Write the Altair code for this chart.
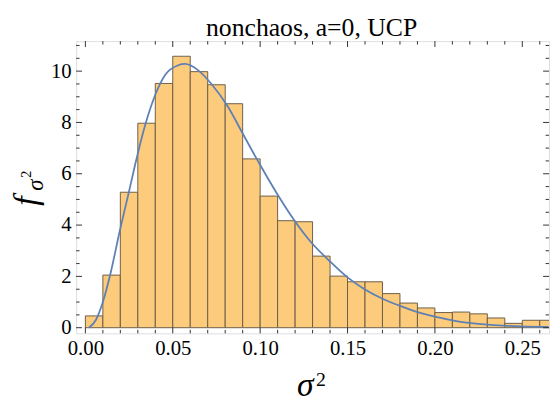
import altair as alt
import pandas as pd

# ---- data ----
bin_lo = [0.00, 0.01, 0.02, 0.03, 0.04, 0.05, 0.06, 0.07, 0.08, 0.09,
          0.10, 0.11, 0.12, 0.13, 0.14, 0.15, 0.16, 0.17, 0.18, 0.19,
          0.20, 0.21, 0.22, 0.23, 0.24, 0.25, 0.26]
bin_hi = [0.01, 0.02, 0.03, 0.04, 0.05, 0.06, 0.07, 0.08, 0.09, 0.10,
          0.11, 0.12, 0.13, 0.14, 0.15, 0.16, 0.17, 0.18, 0.19, 0.20,
          0.21, 0.22, 0.23, 0.24, 0.25, 0.26, 0.27]
density = [0.46, 2.05, 5.28, 7.97, 9.52, 10.58, 9.98, 9.47, 8.73, 6.58,
           5.13, 4.17, 4.13, 2.79, 2.01, 1.79, 1.79, 1.33, 0.96, 0.77,
           0.59, 0.61, 0.54, 0.38, 0.17, 0.29, 0.29]

curve_x = [0.002, 0.006, 0.010, 0.0145, 0.0196, 0.0249, 0.029, 0.0343, 0.040,
           0.0456, 0.0531, 0.057, 0.0644, 0.0719, 0.0814, 0.0908, 0.1002,
           0.1096, 0.120, 0.1294, 0.1397, 0.150, 0.1595, 0.170, 0.1793,
           0.1887, 0.1925, 0.202, 0.2113, 0.2207, 0.230, 0.2395, 0.249, 0.265]
curve_y = [0.0, 0.3, 1.0, 2.15, 3.75, 5.29, 6.51, 7.92, 9.08,
           9.85, 10.23, 10.28, 10.04, 9.52, 8.63, 7.47, 6.32,
           5.23, 4.14, 3.31, 2.6, 1.96, 1.51, 1.13, 0.87,
           0.64, 0.56, 0.40, 0.27, 0.18, 0.12, 0.08, 0.05, 0.03]

x_major = [0.00, 0.05, 0.10, 0.15, 0.20, 0.25]
x_minor = [0.01, 0.02, 0.03, 0.04, 0.06, 0.07, 0.08, 0.09, 0.11, 0.12, 0.13,
           0.14, 0.16, 0.17, 0.18, 0.19, 0.21, 0.22, 0.23, 0.24, 0.26]
y_major = [0, 2, 4, 6, 8, 10]
y_minor = [0.5, 1, 1.5, 2.5, 3, 3.5, 4.5, 5, 5.5, 6.5, 7, 7.5, 8.5, 9, 9.5,
           10.5, 11]

title_text = "nonchaos, a=0, UCP"

# ---- layout ----
W, H = 479, 296
FONT = "Liberation Serif"
MAJ, MIN = 6, 3.5
TICK_COLOR = "#333333"

xscale = alt.Scale(domain=[-0.0053, 0.2653], nice=False, zero=False)
yscale = alt.Scale(domain=[-0.22, 11.17], nice=False, zero=False)
xaxis = alt.Axis(values=x_major, format=".2f", ticks=False, domain=False,
                 grid=False, labelFont=FONT, labelFontSize=21, labelColor="black",
                 labelPadding=4, title=None, labelFlush=False)
yaxis = alt.Axis(values=y_major, format="d", ticks=False, domain=False,
                 grid=False, labelFont=FONT, labelFontSize=21, labelColor="black",
                 labelPadding=5, title=None)


def X(f):
    return alt.X(f, type="quantitative", scale=xscale, axis=xaxis)


def Y(f):
    return alt.Y(f, type="quantitative", scale=yscale, axis=yaxis)


bars_df = pd.DataFrame({"lo": bin_lo, "hi": bin_hi, "d": density, "z": [0.0] * len(bin_lo)})
curve_df = pd.DataFrame({"cx": curve_x, "cy": curve_y})
xmaj_df = pd.DataFrame({"t": x_major})
xmin_df = pd.DataFrame({"t": x_minor})
ymaj_df = pd.DataFrame({"t": y_major})
ymin_df = pd.DataFrame({"t": y_minor})

bars = alt.Chart(bars_df).mark_rect(
    fill="#fccb7c", stroke="#6e5e48", strokeWidth=1, clip=True
).encode(x=X("lo"), x2="hi", y=Y("z"), y2="d")

curve = alt.Chart(curve_df).mark_line(
    color="#5e81b5", strokeWidth=1.8, interpolate="monotone", clip=True
).encode(x=X("cx"), y=Y("cy"))


def xticks(df, length):
    bottom = alt.Chart(df).mark_rule(color=TICK_COLOR, strokeWidth=1).encode(
        x=X("t"), y=alt.value(H), y2=alt.value(H - length))
    top = alt.Chart(df).mark_rule(color=TICK_COLOR, strokeWidth=1).encode(
        x=X("t"), y=alt.value(0), y2=alt.value(length))
    return [bottom, top]


def yticks(df, length):
    left = alt.Chart(df).mark_rule(color=TICK_COLOR, strokeWidth=1).encode(
        y=Y("t"), x=alt.value(0), x2=alt.value(length))
    right = alt.Chart(df).mark_rule(color=TICK_COLOR, strokeWidth=1).encode(
        y=Y("t"), x=alt.value(W), x2=alt.value(W - length))
    return [left, right]


tick_layers = xticks(xmaj_df, MAJ) + xticks(xmin_df, MIN) + yticks(ymaj_df, MAJ) + yticks(ymin_df, MIN)

title = alt.Chart(pd.DataFrame({"s": [title_text]})).mark_text(
    font=FONT, fontSize=26, color="black", align="center", baseline="alphabetic"
).encode(text="s:N", x=alt.value(W / 2 - 1), y=alt.value(-5))

xlab_sigma = alt.Chart(pd.DataFrame({"s": ["σ"]})).mark_text(
    font=FONT, fontSize=34, fontStyle="italic", color="black", align="center",
    baseline="alphabetic"
).encode(text="s:N", x=alt.value(232), y=alt.value(359))
xlab_two = alt.Chart(pd.DataFrame({"s": ["2"]})).mark_text(
    font=FONT, fontSize=20, color="black", align="center", baseline="alphabetic"
).encode(text="s:N", x=alt.value(248), y=alt.value(349))

ylab_f = alt.Chart(pd.DataFrame({"s": ["f"]})).mark_text(
    font=FONT, fontSize=34, fontStyle="italic", color="black", align="center",
    baseline="middle", angle=270
).encode(text="s:N", x=alt.value(-50), y=alt.value(162))
ylab_sigma = alt.Chart(pd.DataFrame({"s": ["σ"]})).mark_text(
    font=FONT, fontSize=23, fontStyle="italic", color="black", align="center",
    baseline="middle", angle=270
).encode(text="s:N", x=alt.value(-41), y=alt.value(146))
ylab_two = alt.Chart(pd.DataFrame({"s": ["2"]})).mark_text(
    font=FONT, fontSize=15, color="black", align="center",
    baseline="middle", angle=270
).encode(text="s:N", x=alt.value(-51), y=alt.value(135))

chart = alt.layer(
    bars, curve, *tick_layers, title, xlab_sigma, xlab_two, ylab_f, ylab_sigma, ylab_two
).properties(
    width=W, height=H,
    autosize=alt.AutoSizeParams(type="none"),
    padding={"left": 69, "top": 31, "right": 2, "bottom": 68},
).configure_view(stroke="#222222", strokeWidth=1.2).configure(background="white")

chart.save("out.html", embed_options={"renderer": "svg", "actions": False})
